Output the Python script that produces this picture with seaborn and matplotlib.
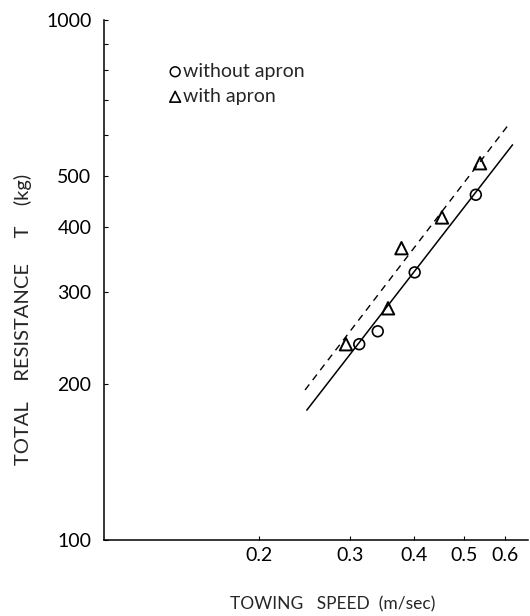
import matplotlib
matplotlib.use("Agg")
import matplotlib.pyplot as plt
import matplotlib.ticker as mticker
import pandas as pd
import seaborn as sns

speed_without = [0.313, 0.340, 0.401, 0.527]
force_without = [238, 252, 327, 461]
speed_with = [0.295, 0.356, 0.378, 0.453, 0.537]
force_with = [238, 279, 364, 417, 530]

# fitted lines (endpoints)
fit_without_speed = [0.2476, 0.621]
fit_without_force = [177.8, 575]
fit_with_speed = [0.2457, 0.608]
fit_with_force = [194.4, 626]

x_ticks = [0.2, 0.3, 0.4, 0.5, 0.6]
x_labels = ["0.2", "0.3", "0.4", "0.5", "0.6"]
y_ticks = [100, 200, 300, 400, 500, 1000]
y_labels = ["100", "200", "300", "400", "500", "1000"]
y_minor = [600, 700, 800, 900]

df_wo = pd.DataFrame({"speed": speed_without, "force": force_without})
df_w = pd.DataFrame({"speed": speed_with, "force": force_with})

sns.set_style("ticks")
plt.rcParams["font.family"] = ["Lato", "DejaVu Sans"]

fig = plt.figure(figsize=(5.3, 6.16), dpi=100)
ax = fig.add_axes([0.196, 0.123, 0.80, 0.845])

sns.lineplot(x=fit_without_speed, y=fit_without_force, color="black", lw=1.1, ax=ax)
sns.lineplot(x=fit_with_speed, y=fit_with_force, color="black", lw=1.0, ax=ax,
             linestyle=(0, (5, 4)))

sns.scatterplot(data=df_wo, x="speed", y="force", marker="o", s=60,
                facecolors="none", edgecolors="black", linewidth=1.2, ax=ax)
sns.scatterplot(data=df_w, x="speed", y="force", marker="^", s=80,
                facecolors="none", edgecolors="black", linewidth=1.4, ax=ax)

ax.set_xscale("log")
ax.set_yscale("log")
ax.set_xlim(0.1, 0.665)
ax.set_ylim(100, 1000)

ax.xaxis.set_major_locator(mticker.FixedLocator(x_ticks))
ax.xaxis.set_major_formatter(mticker.FixedFormatter(x_labels))
ax.xaxis.set_minor_locator(mticker.NullLocator())
ax.yaxis.set_major_locator(mticker.FixedLocator(y_ticks))
ax.yaxis.set_major_formatter(mticker.FixedFormatter(y_labels))
ax.yaxis.set_minor_locator(mticker.FixedLocator(y_minor))
ax.yaxis.set_minor_formatter(mticker.NullFormatter())

ax.tick_params(axis="both", which="both", direction="in", length=3, width=0.8,
               labelsize=14, colors="black")
ax.tick_params(axis="y", which="major", pad=9)
ax.tick_params(axis="x", which="major", pad=5)

sns.despine(ax=ax)
for s in ("left", "bottom"):
    ax.spines[s].set_linewidth(1.1)
    ax.spines[s].set_color("black")

ax.set_xlabel("TOWING   SPEED  (m/sec)", fontsize=12.5)
ax.xaxis.set_label_coords(0.54, -0.108)
ax.set_ylabel("TOTAL    RESISTANCE     T    (kg)", fontsize=14.5)
ax.yaxis.set_label_coords(-0.17, 0.425)

# legend drawn as free text, as in the original figure
ax.scatter([0.1 * 10 ** (0.17 * 0.8137)], [10 ** (2 + 0.9)], marker="o", s=50,
           facecolors="none", edgecolors="black", linewidths=1.1)
ax.text(0.187, 0.9, "without apron", transform=ax.transAxes, fontsize=14,
        va="center", ha="left")
ax.scatter([0.1 * 10 ** (0.17 * 0.8137)], [10 ** (2 + 0.852)], marker="^", s=60,
           facecolors="none", edgecolors="black", linewidths=1.2)
ax.text(0.187, 0.852, "with apron", transform=ax.transAxes, fontsize=14,
        va="center", ha="left")

fig.savefig("out.png", dpi=100)
